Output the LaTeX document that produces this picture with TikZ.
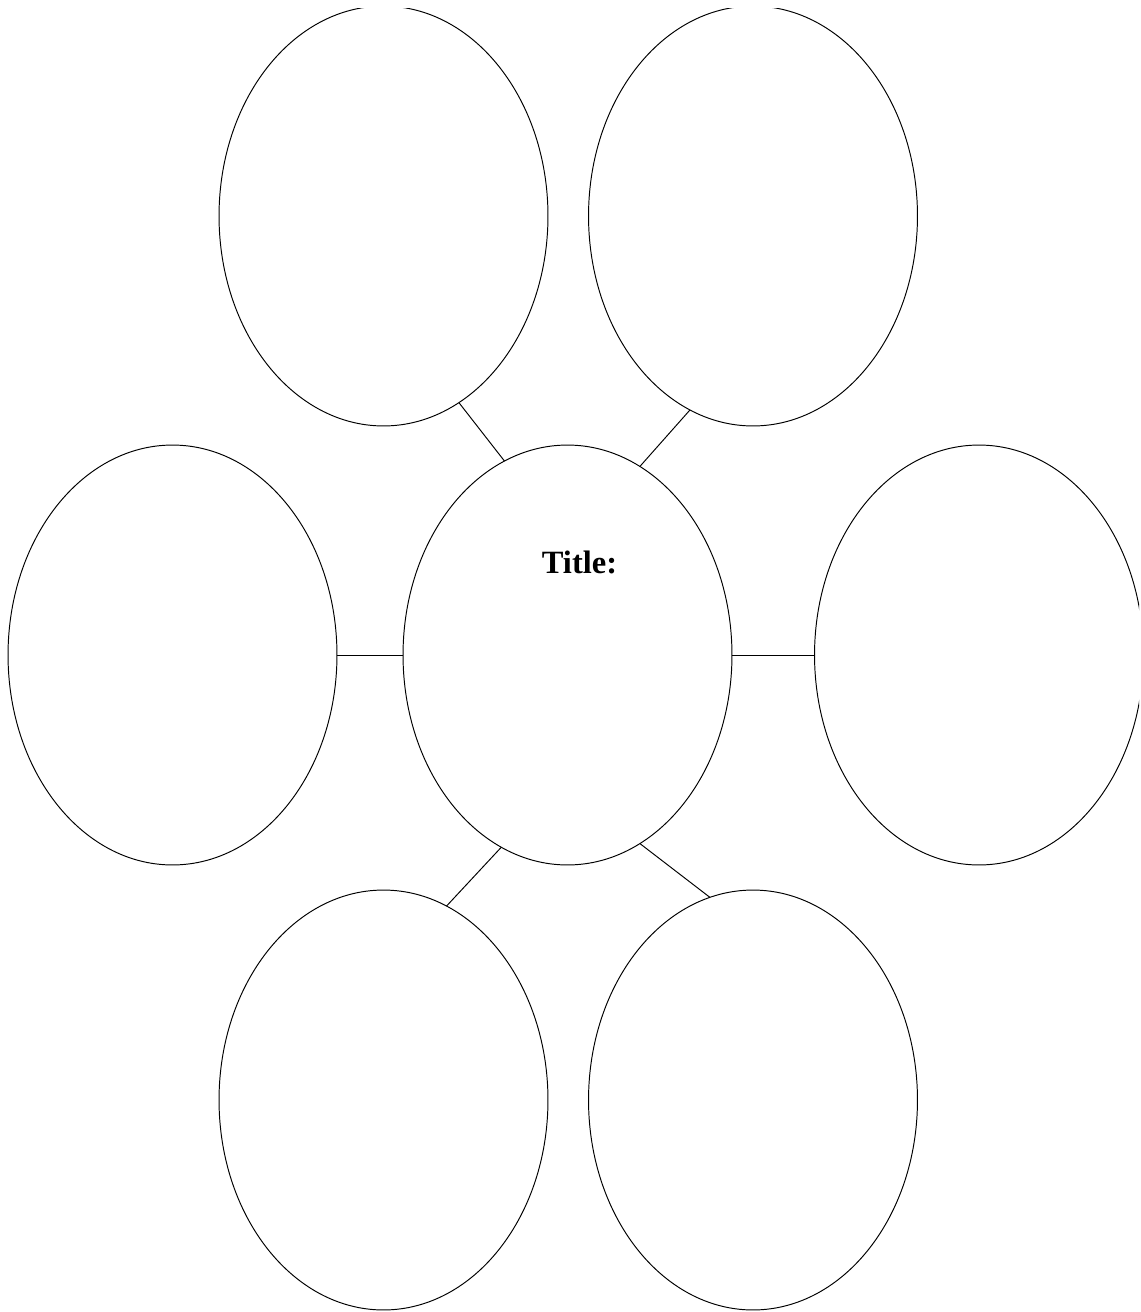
\documentclass[tikz,border=0pt]{standalone}
\usepackage{fontspec}
\setmainfont{Liberation Serif}
\usetikzlibrary{shapes.geometric}
\begin{document}
\begin{tikzpicture}[x=0.02cm,y=-0.02cm,
  bubble/.style={draw, ellipse, line width=0.55pt, minimum width=6.58cm, minimum height=8.4cm, inner sep=0pt, outer sep=0pt},
  link/.style={line width=0.55pt}]
\useasboundingbox (0,0) rectangle (1140,1312);
\clip (0,8) rectangle (1139,1311);
\node[bubble] (tl) at (383.5,216) {};
\node[bubble] (tr) at (753,216) {};
\node[bubble] (ml) at (172.5,655) {};
\node[bubble] (c) at (567.5,655) {};
\node[bubble] (mr) at (979,655) {};
\node[bubble] (bl) at (383.5,1100) {};
\node[bubble] (br) at (753,1100) {};
\node[anchor=base, font=\bfseries\fontsize{18.5pt}{22pt}\selectfont, inner sep=0pt] (title) at (579.5,573) {Title:};
\draw[link] (tl.-68.4) -- (c.108.4);
\draw[link] (tr.-108) -- (c.69.6);
\draw[link] (ml.east) -- (c.west);
\draw[link] (c.east) -- (mr.west);
\draw[link] (c.-109.9) -- (bl.72.9);
\draw[link] (c.-69.2) -- (br.102.8);
\end{tikzpicture}
\end{document}
